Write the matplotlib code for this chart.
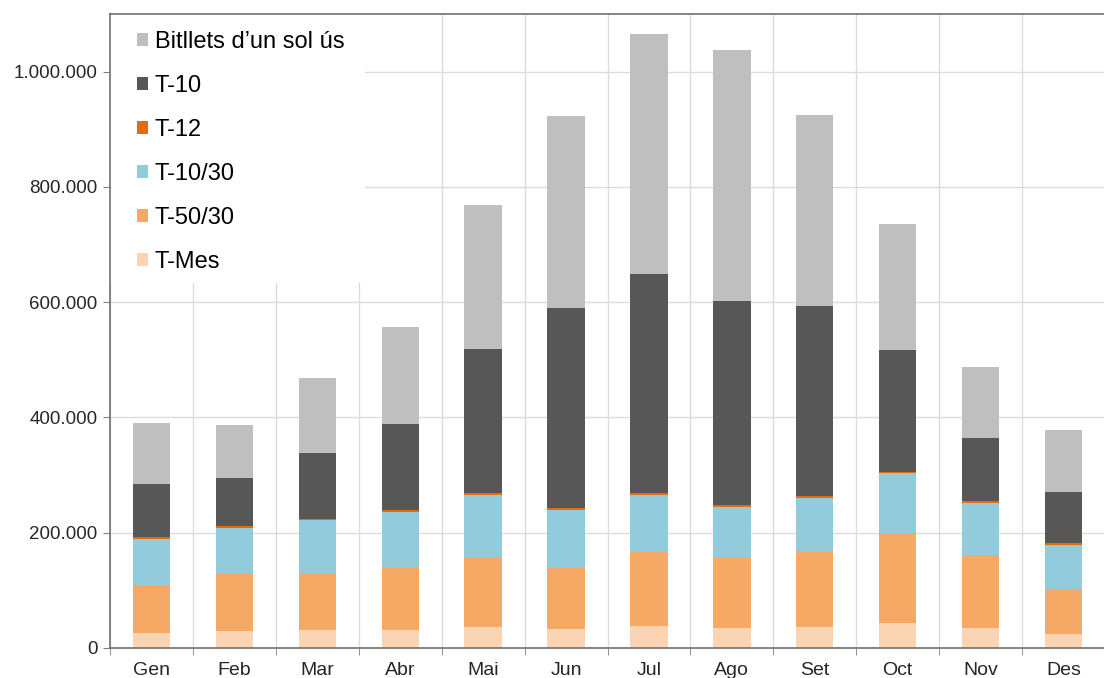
import matplotlib
matplotlib.use("Agg")
import matplotlib.pyplot as plt
from matplotlib.ticker import FuncFormatter, FixedLocator
from matplotlib.patches import Rectangle
import numpy as np

plt.rcParams['font.family'] = ['Liberation Sans', 'DejaVu Sans']

months = ["Gen", "Feb", "Mar", "Abr", "Mai", "Jun", "Jul", "Ago", "Set", "Oct", "Nov", "Des"]

t_mes = [26000, 28800, 30500, 31700, 35700, 33000, 38700, 35200, 36400, 42700, 35200, 24800]
t_50_30 = [82600, 100600, 100100, 108800, 122100, 105800, 127100, 121400, 131200, 156800, 126600, 76300]
t_10_30 = [80900, 78500, 90700, 95200, 107400, 101000, 99400, 88400, 93100, 103300, 89500, 78000]
t_12 = [3000, 3000, 3000, 3000, 3000, 3000, 3000, 3000, 3000, 3000, 3000, 3000]
t_10 = [91500, 83200, 113300, 150400, 250500, 347000, 380500, 353900, 329500, 211200, 110000, 89000]
single = [105800, 93500, 130800, 168000, 249800, 333000, 416300, 435400, 331300, 218500, 123200, 106300]

series = [
    ("T-Mes", t_mes, "#FBD4B4"),
    ("T-50/30", t_50_30, "#F6A865"),
    ("T-10/30", t_10_30, "#92CBDC"),
    ("T-12", t_12, "#E46C0A"),
    ("T-10", t_10, "#575757"),
    ("Bitllets d\u2019un sol \u00fas", single, "#BFBFBF"),
]

fig = plt.figure(figsize=(11.04, 6.78), dpi=100)
ax = fig.add_axes([110 / 1104, 30 / 678, 995 / 1104, 634 / 678])

x = np.arange(len(months))
bottom = np.zeros(len(months))
handles = []
for name, vals, color in series:
    vals = np.array(vals, dtype=float)
    b = ax.bar(x, vals, 0.45, bottom=bottom, color=color, label=name, zorder=3)
    handles.append(b)
    bottom += vals

ax.set_xlim(-0.5, 11.5)
ax.set_ylim(0, 1100000)

ax.set_yticks(np.arange(0, 1000001, 200000))
ax.yaxis.set_major_formatter(FuncFormatter(lambda v, p: f"{int(v):,}".replace(",", ".")))

ax.set_xticks(x)
ax.set_xticklabels(months)
ax.xaxis.set_minor_locator(FixedLocator(np.arange(-0.5, 12, 1.0)))

ax.tick_params(axis='x', which='major', length=0, labelsize=14, labelcolor='#262626', pad=10)
ax.tick_params(axis='x', which='minor', length=5, color='#808080', direction='out')
ax.tick_params(axis='y', which='major', length=5, color='#808080', labelsize=13.5,
               labelcolor='#262626', pad=4)

ax.grid(axis='y', which='major', color='#DCDCDC', linewidth=1, zorder=0)
ax.grid(axis='x', which='minor', color='#DCDCDC', linewidth=1, zorder=0)
ax.set_axisbelow(True)

for side in ['left', 'bottom', 'top', 'right']:
    ax.spines[side].set_color('#707070')
    ax.spines[side].set_linewidth(1.2)
    ax.spines[side].set_zorder(6)

# white panel behind the legend hides the gridlines there
ax.add_patch(Rectangle((0, 365 / 634), 255 / 995, 1 - 365 / 634, transform=ax.transAxes,
                       facecolor='white', edgecolor='none', zorder=4))

leg = ax.legend(handles[::-1], [s[0] for s in series][::-1], loc='upper left',
                bbox_to_anchor=(27 / 995, 1 - 17 / 634), fontsize=17, frameon=False,
                handlelength=0.45, handleheight=0.45, handletextpad=0.3,
                labelspacing=0.93, borderpad=0, borderaxespad=0)
leg.set_zorder(5)

fig.savefig("out.png", dpi=100)
